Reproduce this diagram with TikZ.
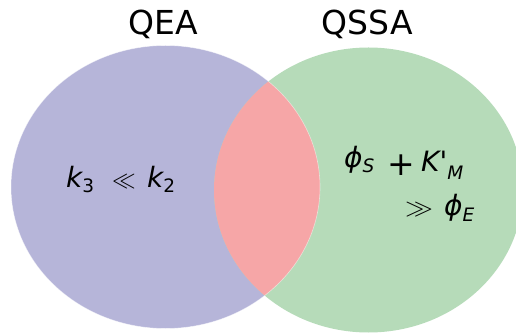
\documentclass[tikz,border=0pt]{standalone}
\usepackage{fontspec}
\newfontfamily\dv{DejaVu Sans}
\newfontfamily\dvi{DejaVu Sans Oblique}
\definecolor{qeacol}{RGB}{182,181,217}
\definecolor{qssacol}{RGB}{182,219,185}
\definecolor{bothcol}{RGB}{246,166,167}
\newcommand{\msub}[2]{\raisebox{-#1}{\fontsize{18.5}{18.5}\selectfont #2}}
\begin{document}
\begin{tikzpicture}[x=1pt,y=-1pt,
  title/.style={font=\dv\fontsize{33}{33}\selectfont, inner sep=0pt},
  formula/.style={font=\dv\fontsize{28}{28}\selectfont, inner sep=0pt, anchor=base west}]
\useasboundingbox (0,0) rectangle (516,336);
\fill[qeacol] (165.5,187) ellipse [x radius=154.5, y radius=141.5];
\fill[qssacol] (368.5,190) ellipse [x radius=154.5, y radius=142.5];
\begin{scope}
  \clip (165.5,187) ellipse [x radius=154.5, y radius=141.5];
  \fill[bothcol] (368.5,190) ellipse [x radius=154.5, y radius=142.5];
\end{scope}
\draw[white, opacity=0.5, line width=0.6pt] (165.5,187) ellipse [x radius=154.5, y radius=141.5];
\node[title, anchor=base] (qea) at (163,35) {QEA};
\node[title, anchor=base] (qssa) at (367.5,35) {QSSA};
% left formula
\node[formula] (k3) at (66,188) {{\dvi k}\msub{5pt}{3}};
\node[formula] (ll) at (112,187.5) {\scalebox{0.95}[0.95]{$\ll$}};
\node[formula] (k2) at (147,188) {{\dvi k}\msub{5pt}{2}};
% right formula, line 1
\node[formula] (phis) at (344,168) {{\dvi ϕ}\msub{5pt}{\dvi S}};
\node[formula, font=\dv\fontsize{33}{33}\selectfont] (plus) at (387.5,176) {+};
\node[formula] (km) at (421,172) {{\dvi K\char"27}\msub{8pt}{\dvi M}};
% right formula, line 2
\node[formula] (gg) at (405,215.5) {\scalebox{1.12}[0.95]{$\gg$}};
\node[formula] (phie) at (444,216) {{\dvi ϕ}\msub{6pt}{\dvi E}};
\end{tikzpicture}
\end{document}
